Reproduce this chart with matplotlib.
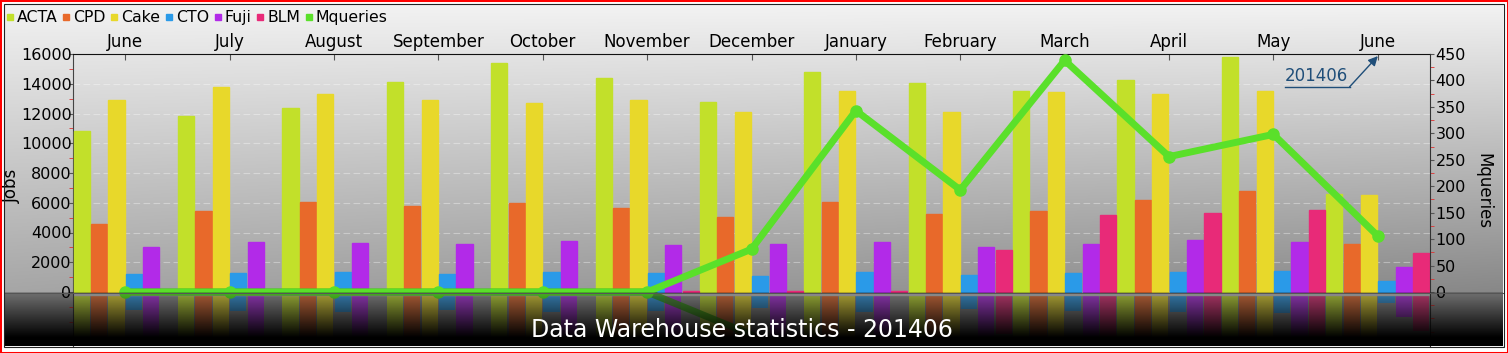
import numpy as np
import matplotlib
matplotlib.use("Agg")
import matplotlib.pyplot as plt
from matplotlib.lines import Line2D
from matplotlib.patches import Rectangle
from matplotlib.ticker import MultipleLocator

months = ["June", "July", "August", "September", "October", "November",
          "December", "January", "February", "March", "April", "May", "June"]

acta = [10850, 11860, 12400, 14150, 15380, 14360, 12800, 14780, 14060, 13480, 14280, 15780, 6600]
cpd = [4570, 5470, 6030, 5780, 5960, 5620, 5040, 6030, 5220, 5450, 6170, 6770, 3200]
cake = [12900, 13770, 13300, 12890, 12690, 12900, 12080, 13540, 12090, 13430, 13340, 13540, 6500]
cto = [1190, 1260, 1320, 1190, 1320, 1250, 1050, 1320, 1170, 1260, 1320, 1400, 720]
fuji = [3000, 3360, 3270, 3210, 3410, 3160, 3250, 3390, 3000, 3250, 3470, 3360, 1700]
blm = [0, 0, 0, 0, 0, 40, 40, 40, 2830, 5160, 5290, 5490, 2600]
mqueries = [0, 0, 0, 0, 0, 0, 81, 343, 193, 438, 256, 298, 106]

series = [("ACTA", acta, "#c2e02a"), ("CPD", cpd, "#e8692a"), ("Cake", cake, "#e8d82a"),
          ("CTO", cto, "#2a9ae8"), ("Fuji", fuji, "#b22ae8"), ("BLM", blm, "#e82a78")]
mq_color = "#5ae02a"

W, H = 1508, 353
fig = plt.figure(figsize=(W / 100, H / 100), dpi=100)
fig.patch.set_facecolor("white")

def fx(px):
    return px / W

def fy(py):
    return 1 - py / H

# background panel with a grey gradient
bg = fig.add_axes([fx(5), fy(346), fx(1498), 341 / H], zorder=-5)
rows = np.arange(5, 346)[:, None]
cols = np.arange(5, 1503)[None, :]
t = np.clip((rows - 5) / 287.0, 0, 1)
v = 0.95 - 0.30 * t - 0.12 * t * (cols / W)
v = np.where(rows > 292, 0.55, v)
bg.imshow(np.dstack([v, v, v]), aspect="auto", extent=[0, 1, 0, 1])
bg.axis("off")

x = np.arange(len(months))
ax = fig.add_axes([fx(73), fy(346), fx(1357), 292 / H], zorder=1)
ax.set_facecolor("none")
ax.set_xlim(-0.5, len(months) - 0.5)
ax.set_ylim(-16000 * 54 / 238, 16000)

for k, (name, vals, c) in enumerate(series):
    off = (k - 2.5) / 6
    ax.bar(x + off, vals, width=0.155, color=c, edgecolor=c, linewidth=1, zorder=3)
    ax.bar(x + off, -np.array(vals), width=0.155, color=c, alpha=0.75, zorder=2)

ax.axhspan(-220, 0, color="#b5b5b5", zorder=2.5)
for g in range(2000, 16001, 2000):
    ax.axhline(g, color="white", lw=0.8, ls=(0, (6, 3)), alpha=0.35, zorder=1)

ax.xaxis.tick_top()
ax.set_xticks(x)
ax.set_xticklabels(months, fontsize=12)
ax.tick_params(axis="x", direction="in", length=4, color="#555555", pad=2)
ax.set_yticks(range(0, 16001, 2000))
ax.yaxis.set_minor_locator(MultipleLocator(1000))
ax.tick_params(axis="y", which="major", labelsize=11.5, length=3, color="#555555", pad=-2)
ax.tick_params(axis="y", which="minor", length=3, color="#e03030")
ax.spines["bottom"].set_visible(False)
ax.spines["right"].set_visible(False)
ax.spines["top"].set_color("#111111")
ax.spines["left"].set_color("#444444")
ax.set_ylabel("Jobs", fontsize=12, va="center")
ax.yaxis.set_label_coords(-0.045, 0.55)

ax2 = ax.twinx()
ax2.set_ylim(-450 * 54 / 238, 450)
ax2.plot(x, -np.array(mqueries), color="#3a9a1a", lw=5, alpha=0.8, zorder=2)
ax2.plot(x, mqueries, color=mq_color, lw=5, marker="o", ms=8,
         solid_joinstyle="round", solid_capstyle="round", zorder=5)
ax2.set_yticks(range(0, 451, 50))
ax2.yaxis.set_minor_locator(MultipleLocator(25))
ax2.tick_params(axis="y", which="major", labelsize=11.5, length=3, color="#555555", pad=1)
ax2.tick_params(axis="y", which="minor", length=3, color="#e03030")
for s in ["top", "bottom", "left"]:
    ax2.spines[s].set_visible(False)
ax2.spines["right"].set_color("#333333")
ax2.set_ylabel("Mqueries", fontsize=12, rotation=-90, va="center")
ax2.yaxis.set_label_coords(1.039, 0.53)

# annotation for the current month
ann_col = "#1f4e79"
ax2.text(11.11, 408, "201406", color=ann_col, fontsize=12, va="center", ha="left")
ax2.plot([11.11, 11.73], [388, 388], color=ann_col, lw=1)
ax2.annotate("", xy=(12, 446), xytext=(11.73, 388),
             arrowprops=dict(arrowstyle="-|>", color=ann_col, lw=1,
                             mutation_scale=14, shrinkA=0, shrinkB=0))

# dark fade over the reflection
fade = fig.add_axes([fx(5), fy(346), fx(1498), 54 / H], zorder=10)
a = np.clip(np.linspace(0.2, 1.15, 54), 0, 1)[:, None] * np.ones((1, 10))
rgba = np.zeros((54, 10, 4))
rgba[..., 3] = a
fade.imshow(rgba, aspect="auto", extent=[0, 1, 0, 1])
fade.axis("off")

fig.add_artist(Line2D([fx(5), fx(1503)], [fy(292.5), fy(292.5)], color="#555555", lw=0.8, zorder=11))

fig.text(fx(742), fy(330), "Data Warehouse statistics - 201406", color="white",
         fontsize=17, ha="center", va="center", zorder=20)

handles = [Line2D([], [], marker="s", ls="", color=c, markersize=5) for _, _, c in series]
handles.append(Line2D([], [], marker="s", ls="", color=mq_color, markersize=5))
labels = [n for n, _, _ in series] + ["Mqueries"]
fig.legend(handles, labels, loc="upper left", bbox_to_anchor=(fx(5), fy(10)), ncol=7,
           frameon=False, handletextpad=0.15, columnspacing=0.25, handlelength=0.6,
           borderpad=0, borderaxespad=0, fontsize=11.3)

fig.add_artist(Rectangle((fx(4), fy(347)), fx(1500), 343 / H, transform=fig.transFigure,
                         fill=False, ec="#222222", lw=0.8, zorder=30))
fig.add_artist(Rectangle((0, 0), 1, 1, transform=fig.transFigure,
                         fill=False, ec="red", lw=2.2, zorder=31))

fig.savefig("out.png", dpi=100)
